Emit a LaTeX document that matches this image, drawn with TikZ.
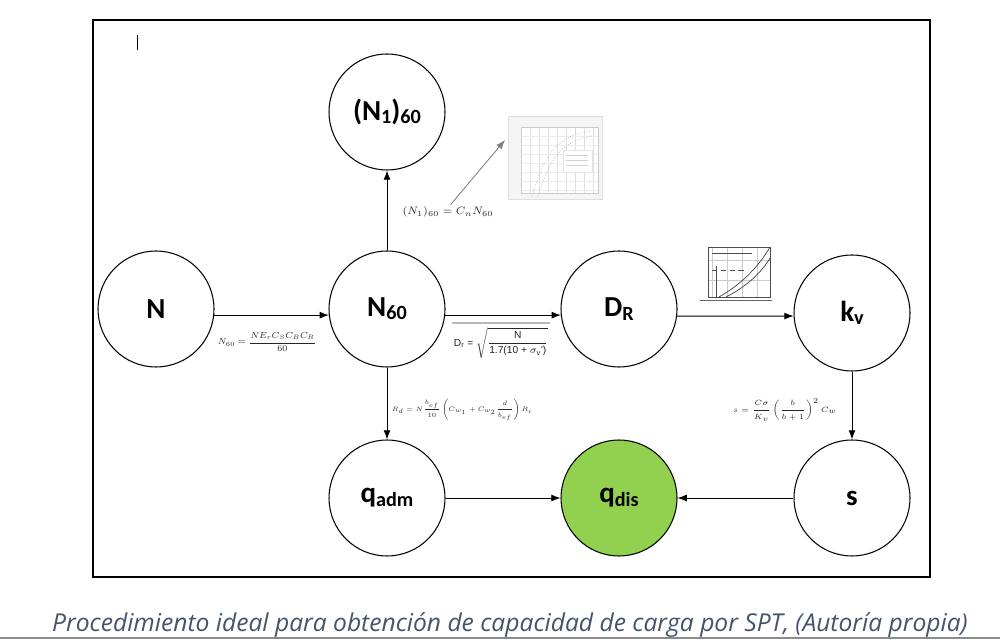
\documentclass[tikz,border=0pt]{standalone}
\usepackage{amsmath}
\usepackage{fontspec}
\setmainfont{Carlito}
\newfontfamily\capfont{Open Sans}
\newfontfamily\arialfont{Liberation Sans}
\usetikzlibrary{arrows.meta,calc}
\definecolor{leaf}{HTML}{92D050}
\definecolor{slate}{HTML}{44546A}
\definecolor{rulegray}{HTML}{8C8C8C}
\newcommand{\lowsub}[1]{\raisebox{-1.9pt}{\fontsize{11.5}{12}\selectfont #1}}

\begin{document}
\begin{tikzpicture}[x=0.02cm,y=-0.02cm,>=Latex,
  state/.style={draw,circle,line width=0.6pt,minimum size=2.32cm,inner sep=0pt,font=\fontsize{16.5}{19}\selectfont\bfseries},
  eq/.style={font=\fontsize{7}{8}\selectfont,text=black!85,inner sep=1pt},
  link/.style={->,line width=0.5pt},
  thumb/.style={inner sep=0pt}]
\useasboundingbox (0,0) rectangle (1000,644);
\draw[line width=1.2pt] (93,20) rectangle (930,577);
\draw[line width=0.5pt] (137,35) -- (137,50);
% states
\node[state] (N) at (156,309) {N};
\node[state] (N60) at (387,309) {N\lowsub{60}};
\node[state] (N160) at (387,112) {(N\lowsub{1})\lowsub{60}};
\node[state] (DR) at (619,309) {D\lowsub{R}};
\node[state] (kv) at (852,313) {k\lowsub{v}};
\node[state] (qadm) at (387,498) {q\lowsub{adm}};
\node[state,fill=leaf] (qdis) at (619,498) {q\lowsub{dis}};
\node[state] (s) at (852,498) {s};
% links
\draw[link] (N.-6) -- (N60.186);
\draw[link] (N60.-6) -- (DR.186);
\draw[link] (DR.-7) -- (kv.183);
\draw[link] (N60.north) -- (N160.south);
\draw[link] (N60.south) -- (qadm.north);
\draw[link] (kv.south) -- (s.north);
\draw[link] (qadm.east) -- (qdis.west);
\draw[link] (s.west) -- (qdis.east);
% formulas
\node[eq] (fN60) at (267,342) {\scalebox{0.72}{$N_{60}=\dfrac{NE_rC_SC_BC_R}{60}$}};
\draw[gray!55,line width=0.6pt] (452,323) -- (550,323);
\node[eq,font=\arialfont\fontsize{7}{8}\selectfont] (fDr) at (501,343) {\scalebox{0.83}{D\textsubscript{r} = $\sqrt{\dfrac{\text{N}}{\text{1.7(10 + }\sigma_{\text{v}}\text{')}}}$}};
\node[eq,font=\fontsize{5.5}{6}\selectfont] (fRd) at (462,410) {\scalebox{0.73}{$R_d=N\dfrac{b_{ef}}{10}\left(C_{w_1}+C_{w_2}\dfrac{d}{b_{ef}}\right)R_i$}};
\node[eq,font=\fontsize{5.5}{6}\selectfont] (fs) at (785,410) {\scalebox{0.86}{$s=\dfrac{C\sigma}{K_v}\left(\dfrac{b}{b+1}\right)^2C_w$}};
\node[eq] (fCn) at (448,212) {\scalebox{0.88}{$(N_1)_{60}=C_nN_{60}$}};
% thumbnails
\node[thumb,draw=gray!25,fill=gray!8,minimum width=1.88cm,minimum height=1.66cm] (plotA) at (555,158) {};
\fill[white] (521,127) rectangle (598,193);
\foreach \x in {521,530,...,598}{\draw[gray!25,line width=0.2pt] (\x,127) -- (\x,193);}
\foreach \y in {127,136,...,193}{\draw[gray!15,line width=0.2pt] (521,\y) -- (598,\y);}
\draw[gray!40,line width=0.3pt] (521,127) rectangle (598,193);
\draw[gray!55,densely dotted,line width=0.4pt] (532,197) .. controls (545,150) and (560,135) .. (592,131);
\draw[gray!55,densely dotted,line width=0.4pt] (538,197) .. controls (550,155) and (565,140) .. (592,136);
\draw[gray!20,line width=0.2pt,fill=white] (563,150) rectangle (592,172);
\foreach \y in {155,160,165}{\draw[gray!35,line width=0.3pt] (566,\y) -- (588,\y);}
\coordinate (tipA) at (505,140);
\draw[->,gray,line width=0.5pt] (fCn.70) -- (tipA);
\node[thumb,draw=white,fill=white,minimum width=1.48cm,minimum height=1.14cm] (plotB) at (735,273) {};
\foreach \x in {712,727,742,757}{\draw[gray!40,line width=0.2pt] (\x,247) -- (\x,297);}
\foreach \y in {260,280}{\draw[gray!40,line width=0.2pt] (708,\y) -- (770,\y);}
\draw[black!70,line width=0.3pt] (708,247) rectangle (770,297);
\draw[black!70,line width=0.3pt] (712,253) -- (752,253);
\draw[black!70,line width=0.3pt,densely dashed] (712,270) -- (745,270);
\draw[black!70,line width=0.3pt] (716,266) -- (716,297);
\draw[black!75,line width=0.4pt] (719,297) .. controls (740,285) and (758,268) .. (770,247);
\draw[black!75,line width=0.4pt] (726,297) .. controls (746,287) and (762,272) .. (770,258);
\draw[black!60,line width=0.3pt] (700,300) -- (772,300);
% caption
\node[font=\capfont\itshape\fontsize{14}{16}\selectfont,text=slate] (cap) at (510,625) {Procedimiento ideal para obtención de capacidad de carga por SPT, (Autoría propia)};
\draw[rulegray,line width=0.8pt] (0,638) -- (1000,638);
\end{tikzpicture}
\end{document}
